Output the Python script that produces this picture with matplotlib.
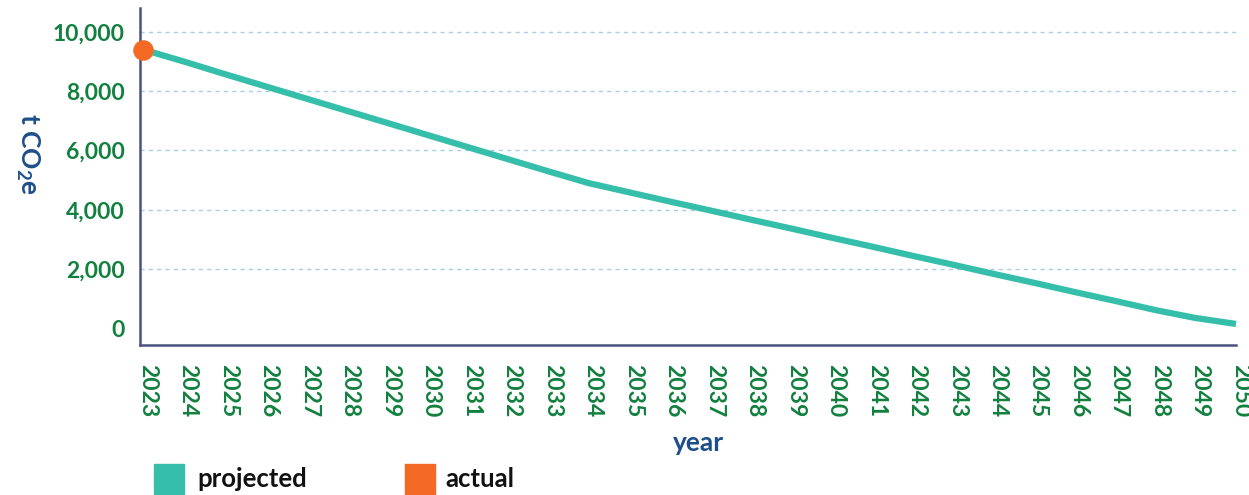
import numpy as np
import matplotlib
matplotlib.use('Agg')
import matplotlib.pyplot as plt
import matplotlib.transforms as mtransforms
from matplotlib.patches import Rectangle

years = [str(y) for y in range(2023, 2051)]
projected = [9400, 9000, 8580, 8170, 7760, 7350, 6940, 6530, 6120, 5710,
             5300, 4900, 4590, 4280, 3980, 3670, 3370, 3060, 2760, 2450,
             2150, 1840, 1540, 1230, 930, 620, 350, 150]
actual_year = '2023'
actual_value = 9400
yticks = [0, 2000, 4000, 6000, 8000, 10000]

green = '#12803f'
navy = '#1d4f8a'
teal = '#35bfaa'
orange = '#f46a25'

plt.rcParams['font.family'] = ['Lato', 'DejaVu Sans']

fig = plt.figure(figsize=(12.49, 4.95), dpi=100)
ax = fig.add_axes([140 / 1249, 150 / 495, 1096 / 1249, 337 / 495])

x = np.arange(len(years))
ax.plot(x, projected, color=teal, lw=4.5, solid_capstyle='butt', clip_on=False, zorder=3)
ax.scatter([years.index(actual_year)], [actual_value], s=190, color=orange, zorder=4, clip_on=False)

ax.set_xlim(-0.074, 27)
ax.set_ylim(-560, 10800)

ax.set_yticks(yticks)
ax.set_yticklabels(['{:,}'.format(v) for v in yticks])
ax.set_xticks(x)
ax.set_xticklabels(years, rotation=-90, ha='center', va='top')

ax.tick_params(axis='both', length=0, labelsize=16.5, labelcolor=green)
ax.tick_params(axis='x', pad=14)
ax.tick_params(axis='y', pad=11)
for lab in ax.get_xticklabels() + ax.get_yticklabels():
    lab.set_fontweight('bold')
offset = mtransforms.ScaledTranslation(0.045, 0, fig.dpi_scale_trans)
for lab in ax.get_xticklabels():
    lab.set_transform(lab.get_transform() + offset)

for v in yticks[1:]:
    ax.axhline(v, color='#a9cfe6', lw=1, ls=(0, (3, 3)), zorder=1)

for s in ['top', 'right']:
    ax.spines[s].set_visible(False)
for s in ['left', 'bottom']:
    ax.spines[s].set_color('#4b527e')
    ax.spines[s].set_linewidth(1.8)

fig.text(28 / 1249, 1 - 154 / 495, 't CO$_\\mathregular{2}$e', rotation=-90, ha='center', va='center',
         fontsize=19, fontweight='bold', color=navy)
fig.text(698 / 1249, 1 - 443 / 495, 'year', ha='center', va='center',
         fontsize=19, fontweight='bold', color=navy)

# legend
fig.patches.append(Rectangle((154 / 1249, 1 - 494 / 495), 30 / 1249, 30 / 495,
                             transform=fig.transFigure, color=teal))
fig.text(197 / 1249, 1 - 479 / 495, 'projected', ha='left', va='center',
         fontsize=18.5, fontweight='bold', color='#111111')
fig.patches.append(Rectangle((405 / 1249, 1 - 494 / 495), 30 / 1249, 30 / 495,
                             transform=fig.transFigure, color=orange))
fig.text(445 / 1249, 1 - 479 / 495, 'actual', ha='left', va='center',
         fontsize=18.5, fontweight='bold', color='#111111')

fig.savefig('out.png', dpi=100)
